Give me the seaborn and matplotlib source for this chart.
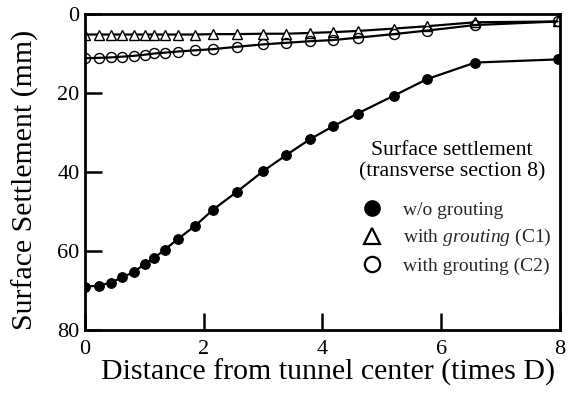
import matplotlib
matplotlib.use("Agg")
import matplotlib.pyplot as plt
import seaborn as sns
import pandas as pd
from matplotlib.lines import Line2D

distance = [0, 0.235, 0.43, 0.63, 0.82, 1.01, 1.17, 1.34, 1.57, 1.85, 2.16,
            2.56, 3.0, 3.39, 3.79, 4.18, 4.59, 5.2, 5.76, 6.57, 7.96]
wo_grouting = [69.0, 68.8, 68.0, 66.7, 65.3, 63.3, 61.7, 59.7, 56.9, 53.7, 49.5,
               45.0, 39.8, 35.7, 31.7, 28.4, 25.2, 20.7, 16.5, 12.3, 11.5]
grouting_c1 = [5.2, 5.2, 5.2, 5.2, 5.2, 5.2, 5.2, 5.2, 5.2, 5.2, 5.1,
               5.1, 5.0, 5.0, 4.8, 4.6, 4.3, 3.7, 3.1, 2.1, 1.9]
grouting_c2 = [11.2, 11.1, 11.0, 10.8, 10.6, 10.3, 10.0, 9.8, 9.5, 9.2, 8.9,
               8.3, 7.7, 7.3, 6.9, 6.6, 6.0, 5.1, 4.2, 2.8, 1.9]

x_ticks = [0, 2, 4, 6, 8]
y_ticks = [0, 20, 40, 60, 80]

sns.set_theme(style="white")
plt.rcParams['font.family'] = ['Liberation Serif', 'DejaVu Serif']
plt.rcParams['mathtext.fontset'] = 'custom'
plt.rcParams['mathtext.rm'] = 'Liberation Serif'
plt.rcParams['mathtext.it'] = 'Liberation Serif:italic'

fig = plt.figure(figsize=(5.72, 3.96), dpi=100)
ax = fig.add_axes([0.1486, 0.1667, 0.8304, 0.798])

df = pd.DataFrame({"x": distance, "wo": wo_grouting, "c1": grouting_c1, "c2": grouting_c2})

sns.lineplot(data=df, x="x", y="wo", ax=ax, color="black", lw=1.6, marker="o",
             markersize=7, markerfacecolor="black", markeredgecolor="black",
             sort=False, estimator=None)
sns.lineplot(data=df, x="x", y="c1", ax=ax, color="black", lw=1.6, marker="^",
             markersize=7, markerfacecolor="white", markeredgecolor="black",
             markeredgewidth=1.0, sort=False, estimator=None)
sns.lineplot(data=df, x="x", y="c2", ax=ax, color="black", lw=1.6, marker="o",
             markersize=7.2, markerfacecolor="none", markeredgecolor="black",
             markeredgewidth=1.0, sort=False, estimator=None)

ax.set_xlim(0, 8)
ax.set_ylim(80, 0)
ax.set_xticks(x_ticks)
ax.set_yticks(y_ticks)
ax.set_xticklabels([str(t) for t in x_ticks])
ax.set_yticklabels([str(t) for t in y_ticks])
ax.tick_params(direction="in", length=12, width=1.8, labelsize=16, colors="black",
               pad=4, bottom=True, left=True)
ax.tick_params(axis="x", pad=7)
for s in ax.spines.values():
    s.set_visible(True)
    s.set_color("black")
    s.set_linewidth(2)

ax.set_xlabel("Distance from tunnel center (times D)", fontsize=21.5, labelpad=0, color="black")
ax.xaxis.label.set_x(0.512)
ax.set_ylabel("Surface Settlement (mm)", fontsize=21.5, color="black")
ax.yaxis.set_label_coords(-0.096, 0.475)

# legend title
fig.text(452 / 572, 1 - 161 / 396, "Surface settlement\n(transverse section 8)",
         ha="center", va="center", fontsize=15.7, linespacing=1.15, color="black")

handles = [
    Line2D([], [], ls="none", marker="o", markersize=11, mfc="black", mec="black"),
    Line2D([], [], ls="none", marker="^", markersize=12, mfc="white", mec="black", mew=1.6),
    Line2D([], [], ls="none", marker="o", markersize=11, mfc="white", mec="black", mew=1.6),
]
labels = ["w/o grouting", r"with $\mathit{grouting}$ (C1)", "with grouting (C2)"]
leg = fig.legend(handles, labels, loc="upper left",
                 bbox_to_anchor=(352.6 / 572, 1 - 201 / 396), frameon=False,
                 fontsize=14, handlelength=2.0, handletextpad=0.6,
                 labelspacing=0.45, borderpad=0, borderaxespad=0)

fig.savefig("out.png", dpi=100)
